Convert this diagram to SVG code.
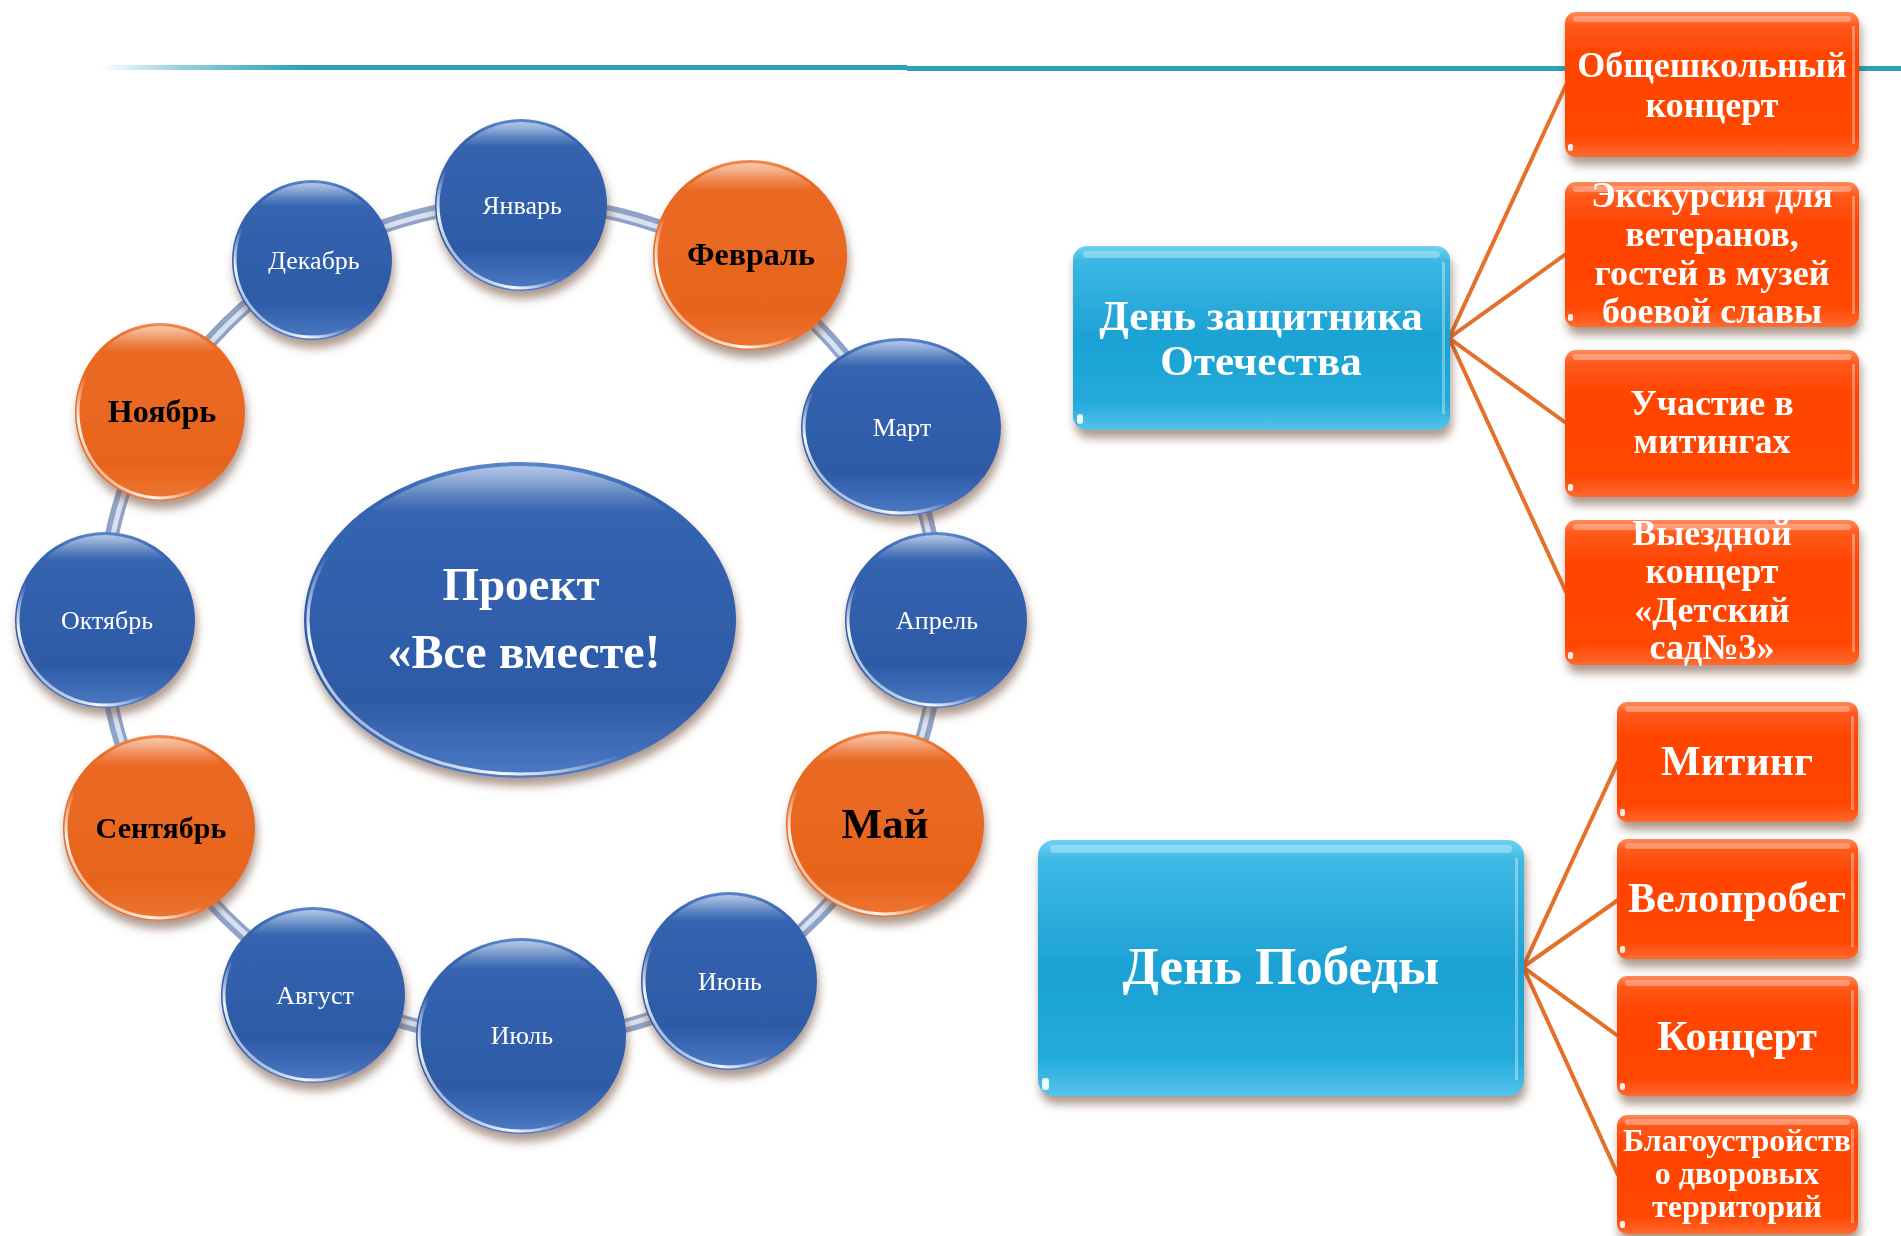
<svg xmlns="http://www.w3.org/2000/svg" width="1901" height="1236" viewBox="0 0 1901 1236">
<defs>
  <linearGradient id="lineFade" x1="100" y1="0" x2="907" y2="0" gradientUnits="userSpaceOnUse">
    <stop offset="0" stop-color="#2aa1bd" stop-opacity="0"/>
    <stop offset="0.1" stop-color="#2aa1bd" stop-opacity="0.5"/>
    <stop offset="0.25" stop-color="#2aa1bd" stop-opacity="1"/>
    <stop offset="1" stop-color="#2aa1bd" stop-opacity="1"/>
  </linearGradient>
  <linearGradient id="blueBall" x1="0" y1="0" x2="0" y2="1">
    <stop offset="0" stop-color="#5a86cc"/>
    <stop offset="0.1" stop-color="#3565b1"/>
    <stop offset="0.75" stop-color="#2d5aa6"/>
    <stop offset="1" stop-color="#4d7ac4"/>
  </linearGradient>
  <linearGradient id="orangeBall" x1="0" y1="0" x2="0" y2="1">
    <stop offset="0" stop-color="#f08a50"/>
    <stop offset="0.1" stop-color="#ea6a24"/>
    <stop offset="0.8" stop-color="#e8641d"/>
    <stop offset="1" stop-color="#ec7633"/>
  </linearGradient>
  <linearGradient id="rimHL" x1="0.9" y1="0.1" x2="0.1" y2="0.95">
    <stop offset="0" stop-color="#ffffff" stop-opacity="0"/>
    <stop offset="0.62" stop-color="#ffffff" stop-opacity="0"/>
    <stop offset="0.82" stop-color="#ffffff" stop-opacity="0.95"/>
    <stop offset="1" stop-color="#ffffff" stop-opacity="0.2"/>
  </linearGradient>
  <linearGradient id="rimTop" x1="0" y1="0" x2="0" y2="1">
    <stop offset="0" stop-color="#ffffff" stop-opacity="0.55"/>
    <stop offset="0.15" stop-color="#ffffff" stop-opacity="0"/>
    <stop offset="1" stop-color="#ffffff" stop-opacity="0"/>
  </linearGradient>
  <linearGradient id="cyanBox" x1="0" y1="0" x2="0" y2="1">
    <stop offset="0" stop-color="#6fd2f3"/>
    <stop offset="0.08" stop-color="#3db8e4"/>
    <stop offset="0.5" stop-color="#1ca2d4"/>
    <stop offset="0.85" stop-color="#22aadb"/>
    <stop offset="1" stop-color="#55c3eb"/>
  </linearGradient>
  <linearGradient id="orangeBox" x1="0" y1="0" x2="0" y2="1">
    <stop offset="0" stop-color="#ff8a5c"/>
    <stop offset="0.09" stop-color="#ff5a1c"/>
    <stop offset="0.3" stop-color="#ff4400"/>
    <stop offset="0.85" stop-color="#ff4602"/>
    <stop offset="1" stop-color="#ff6a30"/>
  </linearGradient>
  <filter id="shadow" x="-20%" y="-20%" width="140%" height="150%">
    <feGaussianBlur in="SourceAlpha" stdDeviation="5"/>
    <feOffset dx="2" dy="8" result="b"/>
    <feFlood flood-color="#6b4632" flood-opacity="0.55"/>
    <feComposite in2="b" operator="in"/>
    <feMerge><feMergeNode/><feMergeNode in="SourceGraphic"/></feMerge>
  </filter>
</defs>
<style>
  .blue{fill:url(#blueBall)}
  .orange{fill:url(#orangeBall)}
  .rim{fill:none;stroke:url(#rimHL);stroke-width:3}
  .top{fill:url(#rimTop)}
  .mw{font-family:"Liberation Serif","Times New Roman",serif;font-size:26px;fill:#ffffff;text-anchor:middle}
  .mo{font-family:"Liberation Serif","Times New Roman",serif;font-weight:bold;fill:#000000;text-anchor:middle}
  .bt{font-family:"Liberation Serif","Times New Roman",serif;font-weight:bold;fill:#ffffff;text-anchor:middle}
  .conn{stroke:#e5702a;stroke-width:4;fill:none;stroke-linecap:round}
  .cyan{fill:url(#cyanBox)}
  .obox{fill:url(#orangeBox)}
  .gloss{fill:#ffffff;opacity:0.3}
  .edge{fill:#ffffff;opacity:0.35}
  .nick{fill:#ffffff;opacity:0.9}
</style>

<!-- decorative top line -->
<g id="topline">
  <rect x="100" y="65" width="807" height="5" fill="url(#lineFade)"/>
  <rect x="907" y="66" width="994" height="5" fill="#2aa1bd"/>
</g>

<!-- ring -->
<g id="ring">
  <circle cx="521" cy="621" r="418" fill="none" stroke="#8fa2c8" stroke-width="14"/>
  <circle cx="521" cy="621" r="417" fill="none" stroke="#d9e1f0" stroke-width="5"/>
</g>

<g id="center" filter="url(#shadow)">
  <ellipse cx="520" cy="620" rx="216" ry="158" class="blue"/>
  <ellipse cx="520" cy="620" rx="212" ry="154" class="top"/>
  <ellipse cx="520" cy="620" rx="212" ry="154" class="rim"/>
  <text class="bt" x="521" y="600" font-size="47">Проект</text>
  <text class="bt" x="524" y="668" font-size="48">«Все вместе!</text>
</g>

<g id="m-jan" filter="url(#shadow)">
  <ellipse cx="521" cy="205" rx="86" ry="86" class="blue"/>
  <ellipse cx="521" cy="205" rx="83" ry="83" class="top"/>
  <ellipse cx="521" cy="205" rx="83" ry="83" class="rim"/>
  <text class="mw" x="522" y="214">Январь</text>
</g>
<g id="m-feb" filter="url(#shadow)">
  <ellipse cx="750" cy="255" rx="97" ry="95" class="orange"/>
  <ellipse cx="750" cy="255" rx="94" ry="92" class="top"/>
  <ellipse cx="750" cy="255" rx="94" ry="92" class="rim"/>
  <text class="mo" x="751" y="265" font-size="32">Февраль</text>
</g>
<g id="m-mar" filter="url(#shadow)">
  <ellipse cx="901" cy="427" rx="100" ry="89" class="blue"/>
  <ellipse cx="901" cy="427" rx="97" ry="86" class="top"/>
  <ellipse cx="901" cy="427" rx="97" ry="86" class="rim"/>
  <text class="mw" x="902" y="436">Март</text>
</g>
<g id="m-apr" filter="url(#shadow)">
  <ellipse cx="936" cy="620" rx="91" ry="88" class="blue"/>
  <ellipse cx="936" cy="620" rx="88" ry="85" class="top"/>
  <ellipse cx="936" cy="620" rx="88" ry="85" class="rim"/>
  <text class="mw" x="937" y="629">Апрель</text>
</g>
<g id="m-may" filter="url(#shadow)">
  <ellipse cx="885" cy="824" rx="99" ry="93" class="orange"/>
  <ellipse cx="885" cy="824" rx="96" ry="90" class="top"/>
  <ellipse cx="885" cy="824" rx="96" ry="90" class="rim"/>
  <text class="mo" x="885" y="838" font-size="43">Май</text>
</g>
<g id="m-jun" filter="url(#shadow)">
  <ellipse cx="729" cy="981" rx="88" ry="89" class="blue"/>
  <ellipse cx="729" cy="981" rx="85" ry="86" class="top"/>
  <ellipse cx="729" cy="981" rx="85" ry="86" class="rim"/>
  <text class="mw" x="730" y="990">Июнь</text>
</g>
<g id="m-jul" filter="url(#shadow)">
  <ellipse cx="521" cy="1036" rx="105" ry="98" class="blue"/>
  <ellipse cx="521" cy="1036" rx="102" ry="95" class="top"/>
  <ellipse cx="521" cy="1036" rx="102" ry="95" class="rim"/>
  <text class="mw" x="522" y="1044">Июль</text>
</g>
<g id="m-aug" filter="url(#shadow)">
  <ellipse cx="313" cy="995" rx="92" ry="88" class="blue"/>
  <ellipse cx="313" cy="995" rx="89" ry="85" class="top"/>
  <ellipse cx="313" cy="995" rx="89" ry="85" class="rim"/>
  <text class="mw" x="315" y="1004">Август</text>
</g>
<g id="m-sep" filter="url(#shadow)">
  <ellipse cx="159" cy="828" rx="96" ry="93" class="orange"/>
  <ellipse cx="159" cy="828" rx="93" ry="90" class="top"/>
  <ellipse cx="159" cy="828" rx="93" ry="90" class="rim"/>
  <text class="mo" x="161" y="838" font-size="30">Сентябрь</text>
</g>
<g id="m-oct" filter="url(#shadow)">
  <ellipse cx="105" cy="620" rx="90" ry="88" class="blue"/>
  <ellipse cx="105" cy="620" rx="87" ry="85" class="top"/>
  <ellipse cx="105" cy="620" rx="87" ry="85" class="rim"/>
  <text class="mw" x="107" y="629">Октябрь</text>
</g>
<g id="m-nov" filter="url(#shadow)">
  <ellipse cx="160" cy="412" rx="85" ry="89" class="orange"/>
  <ellipse cx="160" cy="412" rx="82" ry="86" class="top"/>
  <ellipse cx="160" cy="412" rx="82" ry="86" class="rim"/>
  <text class="mo" x="162" y="422" font-size="32">Ноябрь</text>
</g>
<g id="m-dec" filter="url(#shadow)">
  <ellipse cx="312" cy="260" rx="80" ry="80" class="blue"/>
  <ellipse cx="312" cy="260" rx="77" ry="77" class="top"/>
  <ellipse cx="312" cy="260" rx="77" ry="77" class="rim"/>
  <text class="mw" x="314" y="269">Декабрь</text>
</g>

<!-- connectors -->
<g id="connectors">
  <line class="conn" x1="1449" y1="338" x2="1566" y2="85"/>
  <line class="conn" x1="1449" y1="338" x2="1566" y2="254"/>
  <line class="conn" x1="1449" y1="338" x2="1566" y2="423"/>
  <line class="conn" x1="1449" y1="338" x2="1566" y2="592"/>
  <line class="conn" x1="1523" y1="967" x2="1618" y2="762"/>
  <line class="conn" x1="1523" y1="967" x2="1618" y2="900"/>
  <line class="conn" x1="1523" y1="967" x2="1618" y2="1036"/>
  <line class="conn" x1="1523" y1="967" x2="1618" y2="1175"/>
</g>

<!-- parent boxes -->
<g id="b-defender" filter="url(#shadow)">
  <rect x="1073" y="246" width="377" height="184" rx="14" class="cyan"/>
  <rect x="1083" y="251" width="357" height="7" rx="3.5" class="gloss"/>
  <rect x="1442" y="262" width="3" height="152" class="edge"/>
  <rect x="1077" y="414" width="6" height="10" rx="3" class="nick"/>
  <text class="bt" x="1261" y="330" font-size="43">День защитника</text>
  <text class="bt" x="1261" y="375" font-size="43">Отечества</text>
</g>
<g id="b-victory" filter="url(#shadow)">
  <rect x="1038" y="840" width="486" height="256" rx="16" class="cyan"/>
  <rect x="1050" y="845" width="462" height="8" rx="4" class="gloss"/>
  <rect x="1515" y="858" width="3" height="222" class="edge"/>
  <rect x="1042" y="1078" width="7" height="12" rx="3" class="nick"/>
  <text class="bt" x="1281" y="984" font-size="53">День Победы</text>
</g>

<!-- child boxes, top group -->
<g id="c-concert-school" filter="url(#shadow)">
  <rect x="1565" y="12" width="294" height="145" rx="11" class="obox"/>
  <rect x="1573" y="16" width="278" height="6" rx="3" class="gloss"/>
  <rect x="1852" y="26" width="3" height="118" class="edge"/>
  <rect x="1568" y="144" width="5" height="7" rx="2" class="nick"/>
  <text class="bt" x="1712" y="77" font-size="36">Общешкольный</text>
  <text class="bt" x="1712" y="117" font-size="36">концерт</text>
</g>
<g id="c-excursion" filter="url(#shadow)">
  <rect x="1565" y="182" width="294" height="145" rx="11" class="obox"/>
  <rect x="1573" y="186" width="278" height="6" rx="3" class="gloss"/>
  <rect x="1852" y="196" width="3" height="118" class="edge"/>
  <rect x="1568" y="314" width="5" height="7" rx="2" class="nick"/>
  <text class="bt" x="1712" y="207" font-size="36">Экскурсия для</text>
  <text class="bt" x="1712" y="246" font-size="36">ветеранов,</text>
  <text class="bt" x="1712" y="285" font-size="36">гостей в музей</text>
  <text class="bt" x="1712" y="323" font-size="36">боевой славы</text>
</g>
<g id="c-rallies" filter="url(#shadow)">
  <rect x="1565" y="350" width="294" height="147" rx="11" class="obox"/>
  <rect x="1573" y="354" width="278" height="6" rx="3" class="gloss"/>
  <rect x="1852" y="364" width="3" height="120" class="edge"/>
  <rect x="1568" y="484" width="5" height="7" rx="2" class="nick"/>
  <text class="bt" x="1712" y="415" font-size="36">Участие в</text>
  <text class="bt" x="1712" y="453" font-size="36">митингах</text>
</g>
<g id="c-visit" filter="url(#shadow)">
  <rect x="1565" y="520" width="294" height="145" rx="11" class="obox"/>
  <rect x="1573" y="524" width="278" height="6" rx="3" class="gloss"/>
  <rect x="1852" y="534" width="3" height="118" class="edge"/>
  <rect x="1568" y="652" width="5" height="7" rx="2" class="nick"/>
  <text class="bt" x="1712" y="545" font-size="36">Выездной</text>
  <text class="bt" x="1712" y="583" font-size="36">концерт</text>
  <text class="bt" x="1712" y="622" font-size="36">«Детский</text>
  <text class="bt" x="1712" y="659" font-size="36">сад№3»</text>
</g>

<!-- child boxes, bottom group -->
<g id="c-meeting" filter="url(#shadow)">
  <rect x="1617" y="702" width="241" height="120" rx="10" class="obox"/>
  <rect x="1625" y="706" width="225" height="6" rx="3" class="gloss"/>
  <rect x="1851" y="716" width="3" height="94" class="edge"/>
  <rect x="1620" y="809" width="5" height="7" rx="2" class="nick"/>
  <text class="bt" x="1737" y="775" font-size="42">Митинг</text>
</g>
<g id="c-bike" filter="url(#shadow)">
  <rect x="1617" y="839" width="241" height="120" rx="10" class="obox"/>
  <rect x="1625" y="843" width="225" height="6" rx="3" class="gloss"/>
  <rect x="1851" y="853" width="3" height="94" class="edge"/>
  <rect x="1620" y="946" width="5" height="7" rx="2" class="nick"/>
  <text class="bt" x="1737" y="912" font-size="42">Велопробег</text>
</g>
<g id="c-concert" filter="url(#shadow)">
  <rect x="1617" y="976" width="241" height="120" rx="10" class="obox"/>
  <rect x="1625" y="980" width="225" height="6" rx="3" class="gloss"/>
  <rect x="1851" y="990" width="3" height="94" class="edge"/>
  <rect x="1620" y="1083" width="5" height="7" rx="2" class="nick"/>
  <text class="bt" x="1737" y="1050" font-size="42">Концерт</text>
</g>
<g id="c-improve" filter="url(#shadow)">
  <rect x="1617" y="1115" width="241" height="119" rx="10" class="obox"/>
  <rect x="1625" y="1119" width="225" height="6" rx="3" class="gloss"/>
  <rect x="1851" y="1129" width="3" height="94" class="edge"/>
  <rect x="1620" y="1221" width="5" height="7" rx="2" class="nick"/>
  <text class="bt" x="1737" y="1151" font-size="32">Благоустройств</text>
  <text class="bt" x="1737" y="1184" font-size="32">о дворовых</text>
  <text class="bt" x="1737" y="1217" font-size="32">территорий</text>
</g>
</svg>
